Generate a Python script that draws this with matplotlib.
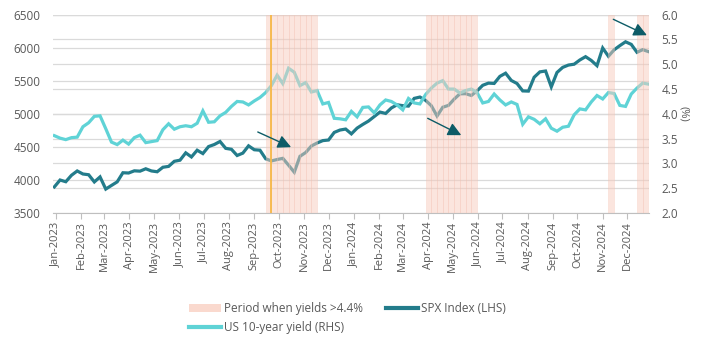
import matplotlib
matplotlib.use("Agg")
import matplotlib.pyplot as plt
import matplotlib.dates as mdates
import matplotlib.transforms as mtransforms
from matplotlib.patches import Patch
from matplotlib.lines import Line2D
import pandas as pd

plt.rcParams['font.family'] = ['Open Sans', 'DejaVu Sans']

# Weekly closes, first value is the week of 6 Jan 2023 (chart plots each a week back)
first_week = '2022-12-30'
spx = [3895, 3999, 3973, 4071, 4136, 4090, 4079, 3970, 4046, 3862, 3917, 3971, 4109,
       4105, 4138, 4133, 4169, 4136, 4124, 4192, 4205, 4282, 4299, 4410, 4348, 4450,
       4399, 4505, 4536, 4582, 4478, 4464, 4370, 4406, 4516, 4457, 4450, 4320, 4288,
       4309, 4327, 4224, 4117, 4358, 4415, 4514, 4559, 4595, 4604, 4719, 4755, 4770,
       4697, 4784, 4840, 4891, 4959, 5027, 5006, 5089, 5137, 5124, 5117, 5234, 5254,
       5204, 5123, 4967, 5100, 5128, 5223, 5303, 5305, 5278, 5347, 5432, 5465, 5460,
       5567, 5615, 5505, 5459, 5347, 5344, 5554, 5635, 5648, 5408, 5626, 5703, 5738,
       5751, 5815, 5865, 5808, 5729, 5996, 5871, 5969, 6032, 6090, 6051, 5931, 5971,
       5942]
us10y = [3.56, 3.51, 3.48, 3.52, 3.53, 3.74, 3.82, 3.95, 3.96, 3.70, 3.43, 3.38, 3.47,
         3.39, 3.52, 3.57, 3.42, 3.44, 3.46, 3.68, 3.80, 3.69, 3.74, 3.76, 3.74, 3.81,
         4.06, 3.83, 3.84, 3.96, 4.03, 4.15, 4.25, 4.24, 4.18, 4.26, 4.33, 4.43, 4.57,
         4.78, 4.61, 4.92, 4.84, 4.57, 4.63, 4.44, 4.47, 4.20, 4.23, 3.91, 3.90, 3.88,
         4.05, 3.94, 4.13, 4.14, 4.02, 4.18, 4.28, 4.25, 4.18, 4.08, 4.31, 4.22, 4.20,
         4.39, 4.52, 4.62, 4.67, 4.50, 4.50, 4.42, 4.47, 4.50, 4.43, 4.22, 4.25, 4.40,
         4.28, 4.18, 4.24, 4.19, 3.79, 3.94, 3.89, 3.80, 3.90, 3.71, 3.65, 3.73, 3.75,
         3.98, 4.10, 4.08, 4.24, 4.37, 4.30, 4.43, 4.41, 4.17, 4.15, 4.40, 4.52, 4.62,
         4.60]

# weeks shaded as "yields > 4.4%" (start of each weekly bar)
shade_weeks = ['2023-09-15', '2023-09-22', '2023-09-29', '2023-10-06', '2023-10-13',
               '2023-10-20', '2023-10-27', '2023-11-03', '2023-11-10',
               '2024-03-29', '2024-04-05', '2024-04-12', '2024-04-19', '2024-04-26',
               '2024-05-03', '2024-05-10', '2024-05-17', '2024-05-24',
               '2024-11-08',
               '2024-12-13', '2024-12-20']
flag_day = '2023-09-22'

spx_color = '#237C8B'
yld_color = '#5FD3D6'
shade_color = '#F8CCBE'
grid_color = '#DADADA'
text_color = '#595959'
arrow_color = '#0D5C67'

dates = pd.date_range(first_week, periods=len(spx), freq='7D')
shade_x = pd.to_datetime(shade_weeks)

fig = plt.figure(figsize=(7.03, 3.5), dpi=100)
ax = fig.add_axes([53 / 703, 1 - 213 / 350, 596 / 703, 198.3 / 350])
ax2 = ax.twinx()

ax.plot(dates, spx, color=spx_color, lw=2.3, solid_joinstyle='miter', zorder=3)
ax2.plot(dates, us10y, color=yld_color, lw=2.3, solid_joinstyle='miter', zorder=2)

ax.set_ylim(3500, 6500)
ax.set_yticks(range(3500, 6501, 500))
ax2.set_ylim(2.0, 6.0)
ax2.set_yticks([2.0 + 0.5 * i for i in range(9)])
ax2.yaxis.set_major_formatter(plt.FormatStrFormatter('%.1f'))
ax.set_xlim(pd.Timestamp('2022-12-28 08:00'), pd.Timestamp('2024-12-27 18:00'))

# grid: left ticks via ax, right ticks drawn into ax too so lines stay on top
ax.yaxis.grid(True, color=grid_color, lw=0.9, zorder=0)
ax2.grid(False)
blend = mtransforms.blended_transform_factory(ax.transAxes, ax2.transData)
for v in ax2.get_yticks()[1:]:
    ax.plot([0, 1], [v, v], transform=blend, color=grid_color, lw=0.9, zorder=0.5)

# shaded weeks on top of both lines
ax2.bar(shade_x, height=4.0, bottom=2.0, width=7, align='edge', color=shade_color,
        alpha=0.5, edgecolor='#F3C0B1', linewidth=0.4, zorder=4)
ax2.axvline(pd.Timestamp(flag_day), color='#F6B847', lw=1.3, zorder=5)

arrows = [((0.3436, 0.4085), (0.3995, 0.3320)),
          ((0.6287, 0.4775), (0.6850, 0.3925)),
          ((0.9401, 0.9768), (0.9965, 0.8965))]
for tail, head in arrows:
    ax2.annotate('', xy=head, xytext=tail, xycoords='axes fraction',
                 textcoords='axes fraction', zorder=6,
                 arrowprops=dict(arrowstyle='-|>,head_length=0.8,head_width=0.4',
                                 color=arrow_color, lw=1.0, shrinkA=0, shrinkB=0))

ax.xaxis.set_major_locator(mdates.MonthLocator())
ax.xaxis.set_major_formatter(mdates.DateFormatter('%b-%Y'))
for a in (ax, ax2):
    for s in a.spines.values():
        s.set_visible(False)
ax.spines['bottom'].set_visible(True)
ax.spines['bottom'].set_color('#BFBFBF')
ax.tick_params(axis='x', direction='out', length=4, color='#BFBFBF', pad=2,
               labelsize=8, labelcolor=text_color, labelrotation=90)
ax.tick_params(axis='y', length=0, pad=9, labelsize=8.5, labelcolor=text_color)
ax2.tick_params(axis='y', length=0, pad=9, labelsize=8.5, labelcolor=text_color)
ax2.set_ylabel('(%)', rotation=270, color=text_color, fontsize=8, labelpad=8)

handles = [Patch(facecolor='#FAD9CE', edgecolor='none'),
           Line2D([], [], color=yld_color, lw=3),
           Line2D([], [], color=spx_color, lw=3)]
labels = ['Period when yields >4.4%', 'US 10-year yield (RHS)', 'SPX Index (LHS)']
fig.legend(handles, labels, ncol=2, loc='center', bbox_to_anchor=(0.494, 0.091),
           frameon=False, fontsize=8.5, labelcolor=text_color, handlelength=2.7,
           handletextpad=0.25, columnspacing=2.0, labelspacing=0.55, borderpad=0)

fig.savefig('out.png', dpi=100)
